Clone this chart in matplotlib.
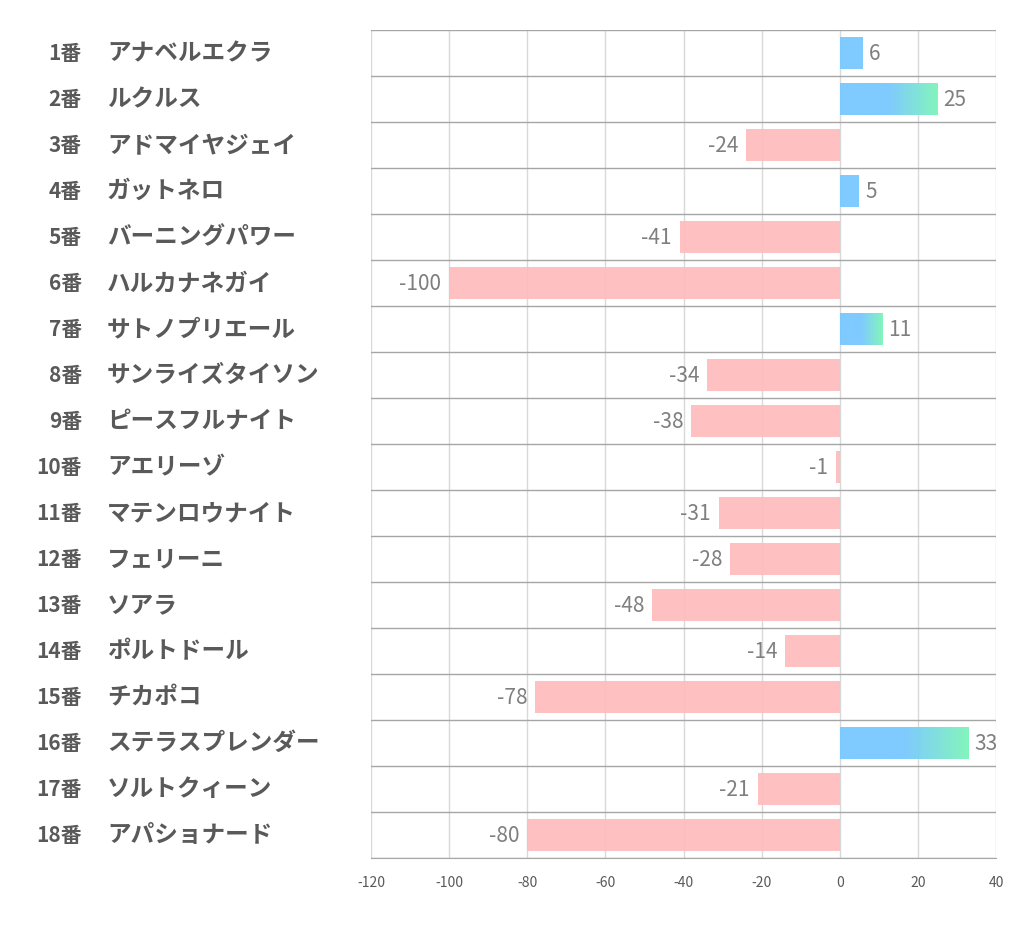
import matplotlib.pyplot as plt
import numpy as np
from matplotlib.colors import LinearSegmentedColormap
from matplotlib.transforms import blended_transform_factory

plt.rcParams['font.family'] = ['Noto Sans CJK JP', 'DejaVu Sans']

numbers = ['1番', '2番', '3番', '4番', '5番', '6番', '7番', '8番', '9番',
           '10番', '11番', '12番', '13番', '14番', '15番', '16番', '17番', '18番']
names = ['アナベルエクラ', 'ルクルス', 'アドマイヤジェイ', 'ガットネロ', 'バーニングパワー',
         'ハルカナネガイ', 'サトノプリエール', 'サンライズタイソン', 'ピースフルナイト',
         'アエリーゾ', 'マテンロウナイト', 'フェリーニ', 'ソアラ', 'ポルトドール',
         'チカポコ', 'ステラスプレンダー', 'ソルトクィーン', 'アパショナード']
values = [6, 25, -24, 5, -41, -100, 11, -34, -38, -1, -31, -28, -48, -14, -78, 33, -21, -80]
xticks = [-120, -100, -80, -60, -40, -20, 0, 20, 40]

fig = plt.figure(figsize=(10.22, 9.39), dpi=100)
ax = fig.add_axes([371 / 1022, 1 - 858 / 939, 625 / 1022, 828 / 939])

n = len(values)
bh = 0.68
pink = '#FFBBBC'
blue = '#78C8FF'
green = '#7CF5B8'
cmap = LinearSegmentedColormap.from_list('bg', [blue, blue, green])

for x in xticks:
    ax.axvline(x, color='#D9D9D9', lw=1, zorder=1)
for b in np.arange(n + 1) - 0.5:
    ax.axhline(b, color='#A6A6A6', lw=1, zorder=1)

for i, v in enumerate(values):
    ty = i + 0.03
    if v < 0:
        ax.barh(i, v, height=bh, color=pink, alpha=0.92, zorder=2)
        ax.text(v - 2.0, ty, str(v), ha='right', va='center', fontsize=15, color='#7F7F7F', zorder=4)
    else:
        if v >= 10:
            grad = np.linspace(0, 1, 256).reshape(1, -1)
            ax.imshow(grad, extent=(0, v, i + bh / 2, i - bh / 2), cmap=cmap, aspect='auto',
                      alpha=0.95, zorder=2, interpolation='bilinear')
        else:
            ax.barh(i, v, height=bh, color=blue, alpha=0.95, zorder=2)
        ax.text(v + 1.5, ty, str(v), ha='left', va='center', fontsize=15, color='#7F7F7F', zorder=4)

ax.set_xlim(-120, 40)
ax.set_ylim(n - 0.5, -0.5)
ax.set_xticks(xticks)
ax.set_xticklabels([str(t) for t in xticks], fontsize=10, color='#595959')
ax.tick_params(axis='x', length=0, pad=13)
ax.set_yticks([])
for s in ['top', 'right', 'left']:
    ax.spines[s].set_visible(False)
ax.spines['bottom'].set_color('#A6A6A6')

tr = blended_transform_factory(fig.transFigure, ax.transData)
for i in range(n):
    ax.text(82 / 1022, i, numbers[i], transform=tr, ha='right', va='center',
            fontsize=15, fontweight='bold', color='#595959', clip_on=False)
    ax.text(107 / 1022, i, names[i], transform=tr, ha='left', va='center',
            fontsize=17, fontweight='bold', color='#595959', clip_on=False)

fig.savefig('out.png', dpi=100)
